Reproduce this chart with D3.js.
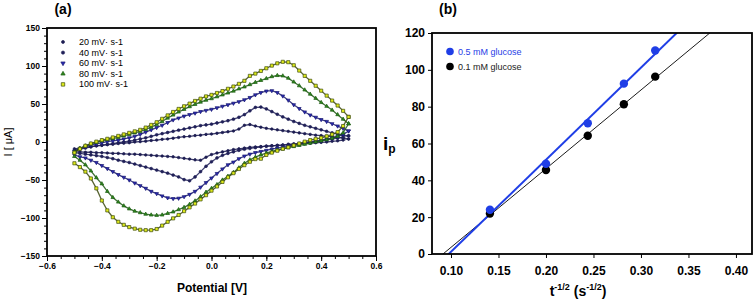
<!DOCTYPE html>
<html><head><meta charset="utf-8">
<script src="https://cdn.jsdelivr.net/npm/d3@7"></script>
<style>body{margin:0;background:#fff} svg{display:block} text{font-family:Arial,"Liberation Sans",sans-serif}</style>
</head><body><svg id="c" width="756" height="301"></svg>
<script>
// ---------- Panel (a): cyclic voltammograms ----------
const potential = [-0.50,-0.48,-0.46,-0.44,-0.42,-0.40,-0.38,-0.36,-0.34,-0.32,-0.30,-0.28,-0.26,-0.24,-0.22,-0.20,-0.18,-0.16,-0.14,-0.12,-0.10,-0.08,-0.06,-0.04,-0.02,0.00,0.02,0.04,0.06,0.08,0.10,0.12,0.14,0.16,0.18,0.20,0.22,0.24,0.26,0.28,0.30,0.32,0.34,0.36,0.38,0.40,0.42,0.44,0.46,0.48,0.50];

const i20Up = [-9,-8,-7,-6,-5,-4.5,-3.5,-3,-2,-1.5,-1,0,0.5,1,2,2.5,3.5,4,5,6,7,7.5,8.5,9,10,10.5,11.5,12.5,13.5,14.5,17,22,23,21,19.5,18,17,16,15,14,13,12,11,10,9,8.5,7.5,7,6,5,4];
const i20Down = [-13,-13,-13.5,-13.5,-14,-14,-14.5,-15,-15,-15.5,-16,-16,-16.5,-17,-17.5,-18,-18.5,-19,-19.5,-20.5,-21.5,-22.5,-23.5,-24,-20,-16.5,-14.5,-13,-11.5,-10,-9,-8,-7,-6.5,-6,-5.5,-5,-4.5,-4,-3.5,-3,-2.5,-2,-1.5,-1,-0.5,0,1,1.5,2.5,4];

const i40Up = [-11,-9.5,-8,-6.5,-5,-4,-3,-2,-1,0,1,2.5,4,5.5,7.5,9.5,11,12.5,14,15.5,17,18.5,20,21.5,22.5,23.5,25,26.5,28,30,32.5,36,41,45.5,46,43.5,40,36.5,33,30,27,24.5,22,20,18,16,14,12,10.5,9,8];
const i40Down = [-14,-15,-16,-17,-18,-19,-20.5,-22,-24,-25.5,-27,-29,-31,-33,-35,-37,-39,-41,-43.5,-46,-49.5,-51,-46,-39,-32,-26,-21,-17.5,-15,-13,-11,-9.5,-8.5,-7.5,-6.5,-5.5,-5,-4.5,-4,-3,-2.5,-2,-1,0,1,2,3,4,5,6.5,8];

const i60Up = [-12,-8.5,-6,-4,-2.5,-1,0.5,1.5,2.5,4,5.5,7.5,10,13,16,19,22,25.5,29,31.5,34,36,38,40,41.5,43,45,47,49,51,53,55.5,58.5,62,65,67,67.5,65,60.5,55,49,44,39.5,35.5,32.5,29.5,27,24,21,18,14.5];
const i60Down = [-17,-19.5,-21,-24,-27,-31,-35,-39,-43,-46.5,-50,-54,-57.5,-61,-65,-68,-71,-73.5,-74.5,-74,-72,-69,-65,-59.5,-53.5,-47.5,-41.5,-35.5,-30,-26.5,-22,-18.5,-16,-14,-12.5,-11,-9.5,-8,-7,-5.5,-4,-3,-1.5,-0.5,0.5,2,3.5,5,7,10,14.5];

const i80Up = [-13,-8.5,-5,-2.5,-0.5,1.5,3,4.5,6,8,10,12,14,16.5,19.5,23,27,31.5,35.5,39.5,43,46.5,49.5,52.5,55,57,59.5,62,64.5,67,70,72.5,75.5,78.5,81,83.5,86,87.5,87,84,79,74,68.5,63,57.5,52,47,42,36,30,24];
const i80Down = [-19,-24,-30,-38,-47,-55,-65,-73,-79,-84,-88,-91,-93,-95,-96,-96.5,-96,-94,-92,-89,-86,-82,-77.5,-72,-66,-61,-56,-50,-45,-40,-34,-28,-23.5,-20,-17,-14.5,-12.5,-10.5,-9,-7.5,-6,-4.5,-3,-1.5,0,1.5,3,5,7.5,12,24];

const i100Up = [-14,-9,-5,-2,0.5,2.5,4.2,6,8,10,12,14,16,19,22.5,26,30.5,35,39.5,43.5,47,50.5,54,57,60,62,64.5,67,70,73,76.5,80.5,87,90,93.5,97,100.5,103.5,105.5,105,101,94,87,80.5,74,67.5,61,54.5,48,41,33];
const i100Down = [-28,-33,-39,-48,-61,-77,-90,-99,-105,-109,-112,-114,-115.5,-116,-116,-114.5,-110,-105,-100.5,-96,-91,-86,-81,-75.5,-70,-64,-58.5,-52.5,-46.5,-41,-35.5,-30.5,-26,-22.5,-22,-17,-14,-11.5,-9,-7,-4.5,-2,0.5,2.5,4,5.5,7.5,10,13,21,33];

const scanLabels = ["20 mV· s-1","40 mV· s-1","60 mV· s-1","80 mV· s-1","100 mV· s-1"];
const axisTicksA_x = [-0.6,-0.4,-0.2,0.0,0.2,0.4,0.6];
const axisTicksA_y = [-150,-100,-50,0,50,100,150];

// ---------- Panel (b): peak current vs t^-1/2 ----------
const tInvSqrt = [0.141,0.200,0.244,0.282,0.315];
const ip05 = [24,49,71,92.5,110.5];
const ip01 = [22,45.6,64.2,81.3,96.3];
const seriesB = ["0.5 mM glucose","0.1 mM glucose"];
const axisTicksB_x = [0.10,0.15,0.20,0.25,0.30,0.35,0.40];
const axisTicksB_y = [0,20,40,60,80,100,120];

const svg = d3.select("#c");

// ===== Panel (a) =====
const xA = d3.scaleLinear().domain([-0.6,0.6]).range([47,376]);
const yA = d3.scaleLinear().domain([-150,150]).range([256,28]);

const gA = svg.append("g");
gA.append("g").attr("transform","translate(0,256)")
  .call(d3.axisBottom(xA).tickValues(d3.range(-0.6,0.601,0.05)).tickSize(3).tickFormat(""))
  .call(g=>g.select(".domain").remove());
gA.append("g").attr("transform","translate(47,0)")
  .call(d3.axisLeft(yA).tickValues(d3.range(-150,151,10)).tickSize(3).tickFormat(""))
  .call(g=>g.select(".domain").remove());
const axAx = gA.append("g").attr("transform","translate(0,256)")
  .call(d3.axisBottom(xA).tickValues(axisTicksA_x).tickSize(5).tickPadding(2).tickFormat(d3.format(".1f")));
const axAy = gA.append("g").attr("transform","translate(47,0)")
  .call(d3.axisLeft(yA).tickValues(axisTicksA_y).tickSize(5).tickPadding(2).tickFormat(d3.format("d")));
[axAx,axAy].forEach(a=>{a.select(".domain").remove();
  a.selectAll("text").attr("font-size",8.5).attr("font-weight","bold").attr("fill","#000");});
gA.selectAll(".tick line").attr("stroke","#000");

const styles = [
  {up:i20Up, down:i20Down, sym:d3.symbolCircle, size:5, fill:"#1c1c52", stroke:"#1c1c52", rot:0},
  {up:i40Up, down:i40Down, sym:d3.symbolCircle, size:6, fill:"#202058", stroke:"#202058", rot:0},
  {up:i60Up, down:i60Down, sym:d3.symbolTriangle, size:6, fill:"#2a2ab4", stroke:"#1a1a70", rot:180},
  {up:i80Up, down:i80Down, sym:d3.symbolTriangle, size:6, fill:"#2f8a1e", stroke:"#1d5a12", rot:0},
  {up:i100Up, down:i100Down, sym:d3.symbolSquare, size:10, fill:"#e0ec1a", stroke:"#3c4a10", rot:0}
];

const lineA = d3.line().x(d=>xA(d[0])).y(d=>yA(d[1]));
styles.forEach(s=>{
  const pts = potential.map((v,i)=>[v,s.up[i]]).concat(potential.map((v,i)=>[v,s.down[i]]).reverse());
  gA.append("path").attr("d",lineA(pts)).attr("fill","none").attr("stroke",s.stroke).attr("stroke-width",1.3).attr("opacity",0.85);
  gA.append("g").selectAll("path").data(pts).join("path")
    .attr("d",d3.symbol(s.sym,s.size))
    .attr("transform",d=>`translate(${xA(d[0])},${yA(d[1])}) rotate(${s.rot})`)
    .attr("fill",s.fill).attr("stroke",s.stroke).attr("stroke-width",0.7);
});

gA.append("rect").attr("x",47).attr("y",28).attr("width",329).attr("height",228)
  .attr("fill","none").attr("stroke","#000").attr("stroke-width",1.8);

const legA = gA.append("g");
scanLabels.forEach((t,i)=>{
  const s = styles[i];
  const y = 42 + i*10.6;
  legA.append("path").attr("d",d3.symbol(s.sym,s.size+2)())
    .attr("transform",`translate(63,${y}) rotate(${s.rot})`)
    .attr("fill",s.fill).attr("stroke",s.stroke).attr("stroke-width",0.7);
  legA.append("text").attr("x",79).attr("y",y+3).attr("font-size",9).text(t);
});

svg.append("text").attr("x",212).attr("y",292).attr("text-anchor","middle")
  .attr("font-size",12).attr("font-weight","bold").text("Potential [V]");
svg.append("text").attr("transform","translate(12,142) rotate(-90)").attr("text-anchor","middle")
  .attr("font-size",11).text("I [ μA]");
svg.append("text").attr("x",63).attr("y",14).attr("text-anchor","middle")
  .attr("font-size",14).attr("font-weight","bold").text("(a)");

// ===== Panel (b) =====
const xB = d3.scaleLinear().domain([0.08,0.4169]).range([432,752]);
const yB = d3.scaleLinear().domain([0,120]).range([254,33]);
const gB = svg.append("g");

const axBx = gB.append("g").attr("transform","translate(0,254)")
  .call(d3.axisBottom(xB).tickValues(axisTicksB_x).tickSize(4).tickPadding(8).tickFormat(d3.format(".2f")));
const axBy = gB.append("g").attr("transform","translate(432,0)")
  .call(d3.axisLeft(yB).tickValues(axisTicksB_y).tickSize(4).tickPadding(3).tickFormat(d3.format("d")));
[axBx,axBy].forEach(a=>{a.select(".domain").remove();
  a.selectAll("text").attr("font-size",12).attr("font-weight","bold").attr("fill","#000");});

gB.append("clipPath").attr("id","clipB").append("rect")
  .attr("x",432).attr("y",33).attr("width",320).attr("height",221);

function fit(xs,ys){
  const mx=d3.mean(xs), my=d3.mean(ys);
  let sxy=0,sxx=0; xs.forEach((x,i)=>{sxy+=(x-mx)*(ys[i]-my); sxx+=(x-mx)*(x-mx);});
  const b=sxy/sxx; return {b, a: my-b*mx};
}
const fitsB = [{xs:tInvSqrt, ys:ip05, color:"#1f3ee6", w:2},{xs:tInvSqrt, ys:ip01, color:"#000", w:0.9}];
fitsB.slice().reverse().forEach(f=>{
  const p = fit(f.xs,f.ys);
  const x0 = xB.domain()[0], x1 = xB.domain()[1];
  gB.append("line").attr("clip-path","url(#clipB)")
    .attr("x1",xB(x0)).attr("y1",yB(p.a+p.b*x0)).attr("x2",xB(x1)).attr("y2",yB(p.a+p.b*x1))
    .attr("stroke",f.color).attr("stroke-width",f.w);
});
gB.append("g").selectAll("circle").data(tInvSqrt.map((x,i)=>[x,ip01[i]])).join("circle")
  .attr("cx",d=>xB(d[0])).attr("cy",d=>yB(d[1])).attr("r",4.2).attr("fill","#000");
gB.append("g").selectAll("circle").data(tInvSqrt.map((x,i)=>[x,ip05[i]])).join("circle")
  .attr("cx",d=>xB(d[0])).attr("cy",d=>yB(d[1])).attr("r",4.2).attr("fill","#1f3ee6");

gB.append("rect").attr("x",432).attr("y",33).attr("width",320).attr("height",221)
  .attr("fill","none").attr("stroke","#000").attr("stroke-width",1.8);

[["#1f3ee6","#1f3ee6"],["#000","#222"]].forEach((c,i)=>{
  const y = 51.5 + i*15;
  gB.append("circle").attr("cx",450).attr("cy",y).attr("r",3.8).attr("fill",c[0]);
  gB.append("text").attr("x",458).attr("y",y+3).attr("font-size",9).attr("fill",c[1]).text(seriesB[i]);
});

const ip = svg.append("text").attr("x",383).attr("y",150).attr("font-weight","bold");
ip.append("tspan").attr("font-size",19).text("i");
ip.append("tspan").attr("font-size",12).attr("dy",3).text("p");

const tl = svg.append("text").attr("x",578).attr("y",296).attr("text-anchor","middle")
  .attr("font-size",14).attr("font-weight","bold");
tl.append("tspan").text("t");
tl.append("tspan").attr("font-size",9).attr("dy",-6).text("-1/2");
tl.append("tspan").attr("dy",6).text(" (s");
tl.append("tspan").attr("font-size",9).attr("dy",-6).text("-1/2");
tl.append("tspan").attr("dy",6).text(")");

svg.append("text").attr("x",448).attr("y",14).attr("text-anchor","middle")
  .attr("font-size",14).attr("font-weight","bold").text("(b)");
</script></body></html>
